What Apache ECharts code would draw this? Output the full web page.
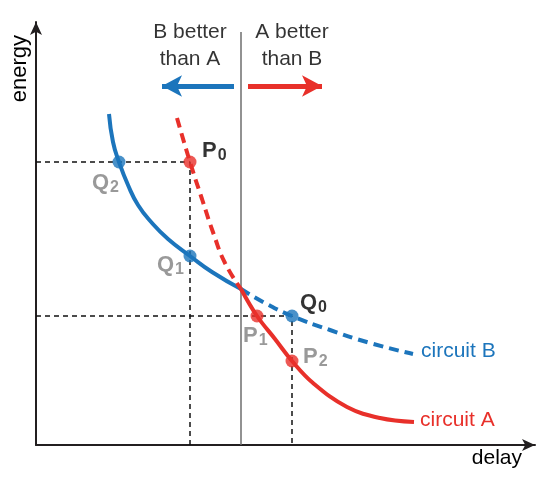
<!DOCTYPE html>
<html>
<head>
<meta charset="utf-8">
<script src="https://cdn.jsdelivr.net/npm/echarts@6/dist/echarts.min.js"></script>
<style>
html,body{margin:0;padding:0;background:#fff;}
#chart{width:550px;height:485px;}
</style>
</head>
<body>
<div id="chart"></div>
<script>
// ---- data (arbitrary units: delay on x, energy on y) ----
const delayMax = 499;
const energyMax = 423;
const circuitBSolid = [[73,331],[77,303],[83,283],[92,260],[102,240],[116,222],[132,206],[154,189],[176,173],[205,156]];
const circuitBDashed = [[205,156],[229,142],[256,129],[294,115],[334,102],[377,91]];
const circuitADashed = [[141,327],[154,283],[166,246],[178,210],[189,182],[205,156]];
const circuitASolid = [[205,156],[221,129],[239,106],[256,84],[277,62],[311,38],[344,27],[378,23]];
const pointLetters = ['P','Q','Q','P','Q','P'];
const pointSubs = ['0','2','1','1','0','2'];
const pointX = [154, 83, 154, 221, 256, 256];
const pointY = [283, 283, 189, 129, 129, 84];
const guide1 = [[0,283],[154,283],[154,0]];
const guide2 = [[0,129],[256,129],[256,0]];
const boundaryX = 205;
const boundaryTop = 413;
const regionTexts = ['B better\nthan A', 'A better\nthan B'];
const regionX = [154, 256];
const regionY = 399;
const arrowB = [[198,359],[126,359]];
const arrowA = [[212,359],[286,359]];
const seriesNames = ['circuit A', 'circuit B'];
const axisNames = ['delay', 'energy'];

// ---- styles ----
const BLUE = '#1c75bc', RED = '#e8302a', GRAY = '#808080', FONT = 'Liberation Sans, Arial, sans-serif';
const pointColors = [RED, BLUE, BLUE, RED, BLUE, RED];
const labelColors = ['#000', GRAY, GRAY, GRAY, '#000', GRAY];
const labelOffsets = [[12,-11],[-27,21],[-33,9],[-14,20],[8,-13],[11,-4]];

const pointSeries = pointX.map((x, i) => ({
  type: 'scatter',
  data: [[x, pointY[i]]],
  symbol: 'circle', symbolSize: 13, z: 5, clip: false,
  itemStyle: { color: pointColors[i] },
  label: {
    show: true,
    position: 'inside',
    align: 'left',
    verticalAlign: 'middle',
    offset: labelOffsets[i],
    formatter: '{m|' + pointLetters[i] + '}{s|' + pointSubs[i] + '}',
    rich: {
      m: { fontSize: 22, fontWeight: 'bold', color: labelColors[i], fontFamily: FONT, lineHeight: 24 },
      s: { fontSize: 16, fontWeight: 'bold', color: labelColors[i], fontFamily: FONT, padding: [10, 0, 0, 1] }
    }
  }
}));

const chart = echarts.init(document.getElementById('chart'), null, { renderer: 'canvas' });
chart.setOption({
  animation: false,
  backgroundColor: '#fff',
  textStyle: { fontFamily: FONT },
  grid: { left: 36, right: 15, top: 22, bottom: 40 },
  xAxis: {
    type: 'value', min: 0, max: delayMax,
    axisLine: { show: true, symbol: ['none', 'arrow'], symbolSize: [9, 13], lineStyle: { color: '#231f20', width: 2 } },
    axisTick: { show: false }, axisLabel: { show: false }, splitLine: { show: false },
    name: axisNames[0], nameLocation: 'end', nameGap: -13,
    nameTextStyle: { fontSize: 21, color: '#000', align: 'right', verticalAlign: 'top', padding: [3, 0, 0, 0], fontFamily: FONT }
  },
  yAxis: {
    type: 'value', min: 0, max: energyMax,
    axisLine: { show: true, symbol: ['none', 'arrow'], symbolSize: [9, 13], lineStyle: { color: '#231f20', width: 2 } },
    axisTick: { show: false }, axisLabel: { show: false }, splitLine: { show: false },
    name: axisNames[1], nameLocation: 'end', nameGap: -13, nameRotate: 90,
    nameTextStyle: { fontSize: 22, color: '#000', align: 'right', verticalAlign: 'bottom', padding: [0, 0, 5, 0], fontFamily: FONT }
  },
  series: [
    { type: 'line', data: [[boundaryX, 0], [boundaryX, boundaryTop]], symbol: 'none', silent: true,
      lineStyle: { color: '#6e6e6e', width: 1.5 }, z: 1 },
    { type: 'line', data: guide1, symbol: 'none', silent: true,
      lineStyle: { color: '#111', width: 1.5, type: [5, 4] }, z: 2 },
    { type: 'line', data: guide2, symbol: 'none', silent: true,
      lineStyle: { color: '#111', width: 1.5, type: [5, 4] }, z: 2 },
    { type: 'line', data: circuitBSolid, symbol: 'none', smooth: 0.5,
      lineStyle: { color: BLUE, width: 4 }, z: 3 },
    { type: 'line', name: seriesNames[1], data: circuitBDashed, symbol: 'none', smooth: 0.5,
      lineStyle: { color: BLUE, width: 4, type: [10, 6] }, z: 3,
      endLabel: { show: true, formatter: seriesNames[1], color: BLUE, fontSize: 21, distance: 8, offset: [0, -3], fontFamily: FONT } },
    { type: 'line', data: circuitADashed, symbol: 'none', smooth: 0.5,
      lineStyle: { color: RED, width: 4, type: [10, 6] }, z: 3 },
    { type: 'line', name: seriesNames[0], data: circuitASolid, symbol: 'none', smooth: 0.4,
      lineStyle: { color: RED, width: 4 }, z: 3,
      endLabel: { show: true, formatter: seriesNames[0], color: RED, fontSize: 21, distance: 6, offset: [0, -2], fontFamily: FONT } },
    ...pointSeries,
    { type: 'scatter', symbolSize: 0, z: 4, clip: false, silent: true,
      data: regionTexts.map((t, i) => ({ value: [regionX[i], regionY], label: {
        show: true, position: 'inside', formatter: t, color: '#000', fontSize: 21, lineHeight: 27, align: 'center', verticalAlign: 'middle', fontFamily: FONT } })),
      markLine: {
        silent: true, symbol: ['none', 'arrow'], symbolSize: [16, 20], label: { show: false },
        data: [
          [{ coord: arrowB[0], lineStyle: { color: BLUE, width: 5, type: 'solid' } }, { coord: arrowB[1] }],
          [{ coord: arrowA[0], lineStyle: { color: RED, width: 5, type: 'solid' } }, { coord: arrowA[1] }]
        ]
      }
    }
  ]
});
</script>
</body>
</html>
